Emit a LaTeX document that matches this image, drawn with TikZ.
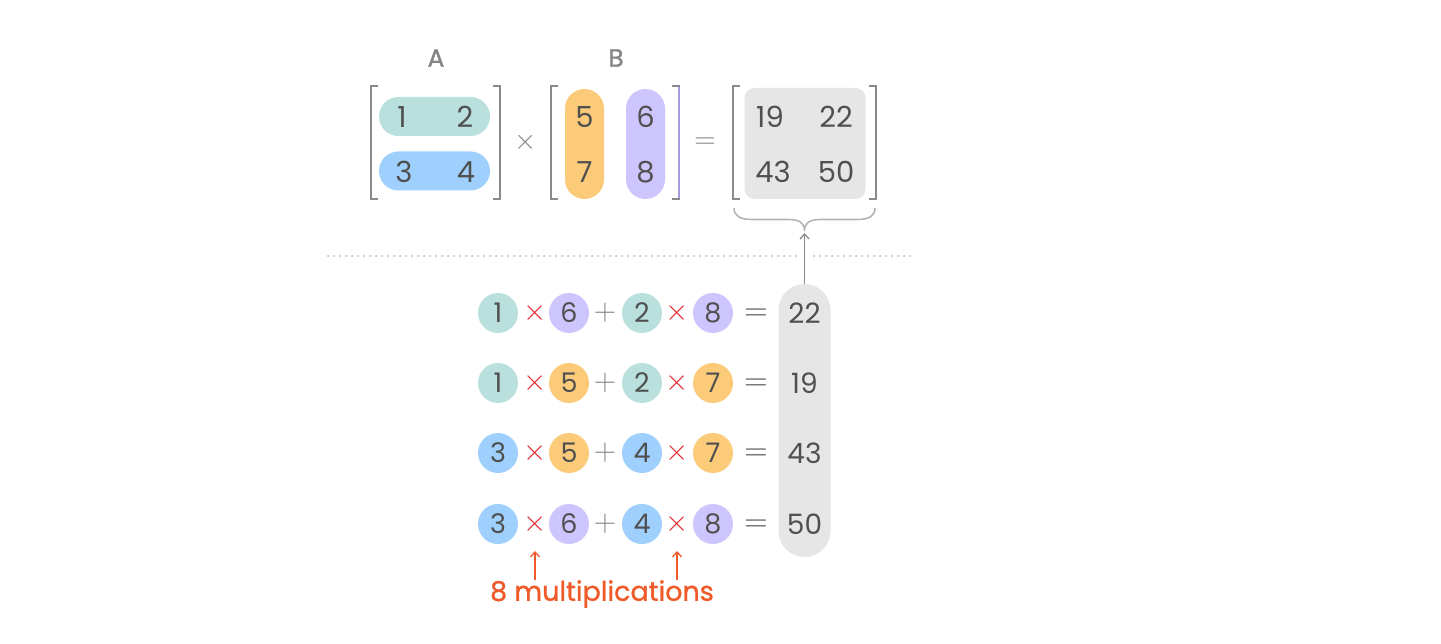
\documentclass[tikz,border=0pt]{standalone}
\usepackage{graphicx}
\usepackage[no-math]{fontspec}
\setmainfont{Poppins}
\usetikzlibrary{arrows.meta}
\definecolor{cAa}{HTML}{B9E0DC}
\definecolor{cAb}{HTML}{9ECFFD}
\definecolor{cBa}{HTML}{FBCB7A}
\definecolor{cBb}{HTML}{CDC5FD}
\definecolor{cbox}{HTML}{E6E6E6}
\definecolor{ctxt}{HTML}{505050}
\definecolor{clab}{HTML}{858585}
\definecolor{cbrk}{HTML}{8A8A8A}
\definecolor{cpur}{HTML}{A49CDB}
\definecolor{cred}{HTML}{E8262E}
\definecolor{corg}{HTML}{F05A28}
\definecolor{cdot}{HTML}{B4B4B4}
\newcommand{\opsc}[2]{\scalebox{#1}{$#2$}}
\tikzset{
  num/.style={inner sep=0pt, text=ctxt, font=\fontsize{29}{29}\selectfont},
  lab/.style={inner sep=0pt, text=clab, font=\fontsize{25}{25}\selectfont\addfontfeature{FakeBold=1.2}},
  mop/.style={inner sep=0pt, text=clab, font=\fontsize{24}{24}\selectfont},
  meq/.style={inner sep=0pt, text=clab, font=\fontsize{24}{24}\selectfont, yshift=-1.5pt},
  rop/.style={inner sep=0pt, text=cred, font=\fontsize{24}{24}\selectfont},
  eop/.style={inner sep=0pt, text=ctxt, font=\fontsize{24}{24}\selectfont, yshift=-2pt},
  pop/.style={inner sep=0pt, text=clab, font=\fontsize{24}{24}\selectfont},
  pill/.style={inner sep=0pt, draw=none},
  circ/.style={circle, inner sep=0pt, minimum size=40pt, text=ctxt, font=\fontsize{27}{27}\selectfont},
  brk/.style={draw=cbrk, line width=2pt},
  dotl/.style={draw=cdot, line width=2pt, line cap=round, dash pattern=on 0pt off 6pt},
  garr/.style={draw=cbrk, line width=1.3pt, -{Straight Barb[length=5pt,width=9pt]}},
  oarr/.style={draw=corg, line width=1.3pt, -{Straight Barb[length=5pt,width=9pt]}},
}
\begin{document}
\begin{tikzpicture}[x=1pt,y=-1pt]
\useasboundingbox[fill=white] (0,0) rectangle (1441,644);
% labels
\node[lab] (labA) at (436,58) {A};
\node[lab] (labB) at (616,58) {B};
% matrix A
\node[pill, fill=cAa, rounded corners=19.5pt, minimum width=111pt, minimum height=39pt] (a1) at (434.5,116.5) {};
\node[pill, fill=cAb, rounded corners=19.5pt, minimum width=111pt, minimum height=39pt] (a2) at (434.5,171) {};
\node[num] (m1) at (402,117) {1};
\node[num] (m2) at (465,117) {2};
\node[num] (m3) at (404,172) {3};
\node[num] (m4) at (466,172) {4};
\draw[brk] (378,86) -- (371,86) -- (371,199) -- (378,199);
\draw[brk] (493,86) -- (500,86) -- (500,199) -- (493,199);
\node[mop] (times) at (526,142) {\opsc{1.15}{\times}};
% matrix B
\node[pill, fill=cBa, rounded corners=19.5pt, minimum width=39pt, minimum height=110pt] (b1) at (584.5,144) {};
\node[pill, fill=cBb, rounded corners=19.5pt, minimum width=39pt, minimum height=110pt] (b2) at (645.5,144) {};
\node[num] (m5) at (584.5,117) {5};
\node[num] (m7) at (584.5,172) {7};
\node[num] (m6) at (645.5,117) {6};
\node[num] (m8) at (645.5,172) {8};
\draw[brk] (558,86) -- (551,86) -- (551,199) -- (558,199);
\draw[brk] (672,86) -- (679,86) -- (679,199) -- (672,199);
\draw[draw=cpur, line width=2pt] (679,87) -- (679,198);
\node[meq] (eq) at (705,142) {\opsc{1.2}{=}};
% matrix C
\node[pill, fill=cbox, rounded corners=10pt, minimum width=121pt, minimum height=111pt] (cbx) at (805,143.5) {};
\node[num] (r19) at (770,117) {19};
\node[num] (r22) at (836,117) {22};
\node[num] (r43) at (773,172) {43};
\node[num] (r50) at (836,172) {50};
\draw[brk] (740,86) -- (733,86) -- (733,199) -- (740,199);
\draw[brk] (869,86) -- (876,86) -- (876,199) -- (869,199);
% brace
\coordinate (tip) at (804.5,231);
\draw[draw=cdot, line width=1.6pt] (734,208) .. controls (734,216) and (740,219.5) .. (752,219.5) -- (788,219.5) .. controls (800,219.5) and (804.5,223) .. (tip) .. controls (804.5,223) and (809,219.5) .. (821,219.5) -- (857,219.5) .. controls (869,219.5) and (875,216) .. (875,208);
% dotted separator
\draw[dotl] (328,256) -- (796,256);
\draw[dotl] (814,256) -- (913,256);
% result pill
\node[pill, fill=cbox, rounded corners=26pt, minimum width=52pt, minimum height=273pt] (res) at (804.5,420.5) {};
\draw[garr] (res.north) -- ([yshift=-2pt]tip);
% rows
\foreach \r/\y/\ca/\cb/\cc/\cd/\va/\vb/\vc/\vd/\res in {
  1/313/cAa/cBb/cAa/cBb/1/6/2/8/22,
  2/383/cAa/cBa/cAa/cBa/1/5/2/7/19,
  3/453/cAb/cBa/cAb/cBa/3/5/4/7/43,
  4/524/cAb/cBb/cAb/cBb/3/6/4/8/50} {
  \node[circ, fill=\ca] (p\r a) at (498,\y) {\va};
  \node[rop] (x\r a) at (535,\y) {\opsc{1.2}{\times}};
  \node[circ, fill=\cb] (p\r b) at (569,\y) {\vb};
  \node[pop] (plus\r) at (605,\y) {\opsc{1.25}{+}};
  \node[circ, fill=\cc] (p\r c) at (642,\y) {\vc};
  \node[rop] (x\r b) at (677,\y) {\opsc{1.2}{\times}};
  \node[circ, fill=\cd] (p\r d) at (713,\y) {\vd};
  \node[eop] (eq\r) at (756,\y) {\opsc{1.3}{=}};
  \node[num, font=\fontsize{28}{28}\selectfont] (s\r) at (804.5,\y) {\res};
}
% note
\node[inner sep=0pt, text=corg, font=\fontsize{27}{27}\selectfont\addfontfeature{FakeBold=1}] (note) at (602,594) {8 multiplications};
\coordinate (o1) at (535,580);
\coordinate (o2) at (677,580);
\draw[oarr] (o1) -- ([yshift=-27pt]x4a.center);
\draw[oarr] (o2) -- ([yshift=-27pt]x4b.center);
\end{tikzpicture}
\end{document}
